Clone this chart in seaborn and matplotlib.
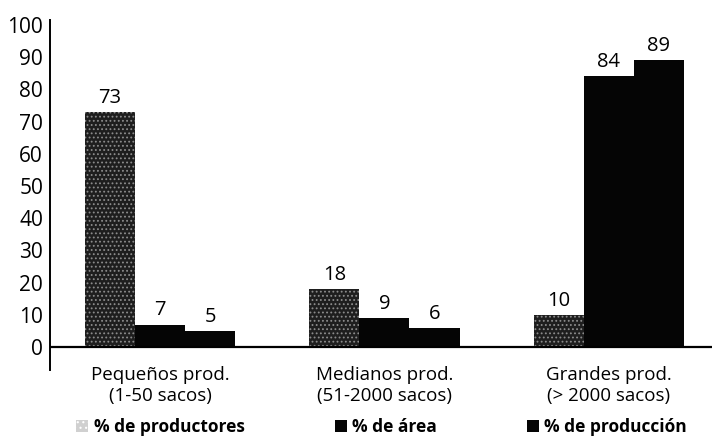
import matplotlib
matplotlib.use("Agg")
import matplotlib.pyplot as plt
import seaborn as sns
import pandas as pd
from matplotlib.patches import Patch

# Data
categories = ["Pequeños prod.\n(1-50 sacos)", "Medianos prod.\n(51-2000 sacos)", "Grandes prod.\n(> 2000 sacos)"]
series = ["% de productores", "% de área", "% de producción"]
productores = [73, 18, 10]
area = [7, 9, 84]
produccion = [5, 6, 89]
yticks = [0, 10, 20, 30, 40, 50, 60, 70, 80, 90, 100]

rows = []
for cat, p, a, pr in zip(categories, productores, area, produccion):
    rows.append({"grupo": cat, "serie": series[0], "valor": p})
    rows.append({"grupo": cat, "serie": series[1], "valor": a})
    rows.append({"grupo": cat, "serie": series[2], "valor": pr})
df = pd.DataFrame(rows)

sns.set_theme(style="white")
plt.rcParams["font.family"] = ["Open Sans", "DejaVu Sans"]
plt.rcParams["hatch.linewidth"] = 0.8
plt.rcParams["text.color"] = "black"

fig = plt.figure(figsize=(7.12, 4.40), dpi=100)
ax = fig.add_axes([0.0702, 0.159, 0.9298, 0.7955])

palette = {series[0]: "#1e1e1e", series[1]: "#050505", series[2]: "#050505"}
sns.barplot(data=df, x="grupo", y="valor", hue="serie", hue_order=series,
            order=categories, palette=palette, width=0.67, saturation=1,
            linewidth=0, ax=ax, legend=False)

# stippled texture for the first series
for bar in ax.containers[0]:
    bar.set_hatch("....")
    bar.set_edgecolor("#8c8c8c")
    bar.set_linewidth(0)

for cont in ax.containers:
    ax.bar_label(cont, fontsize=14.5, padding=3, color="black")

ax.set_xlim(-0.49, 2.46)
ax.set_ylim(-7.1, 101.5)
ax.set_yticks(yticks)
ax.set_yticklabels([str(t) for t in yticks], fontsize=15, color="black")
ax.tick_params(axis="y", length=0, pad=5)
ax.tick_params(axis="x", length=0, pad=-3, labelsize=13.5, labelcolor="black")
ax.set_xlabel("")
ax.set_ylabel("")

for s in ["top", "right", "bottom"]:
    ax.spines[s].set_visible(False)
ax.spines["left"].set_color("black")
ax.spines["left"].set_linewidth(1.4)
ax.axhline(0, color="black", linewidth=1.6, zorder=5)

handles = [
    Patch(facecolor="#d0d0d0", edgecolor="white", hatch="...", linewidth=0),
    Patch(facecolor="#050505", linewidth=0),
    Patch(facecolor="#050505", linewidth=0),
]
leg = fig.legend(handles, series, loc="lower left", bbox_to_anchor=(0.085, -0.026),
                 ncol=3, frameon=False, handlelength=0.7, handleheight=0.7,
                 handletextpad=0.3, columnspacing=5.2,
                 prop={"family": ["Open Sans", "DejaVu Sans"], "weight": "bold", "size": 12.5})

fig.savefig("out.png", dpi=100, facecolor="white")
